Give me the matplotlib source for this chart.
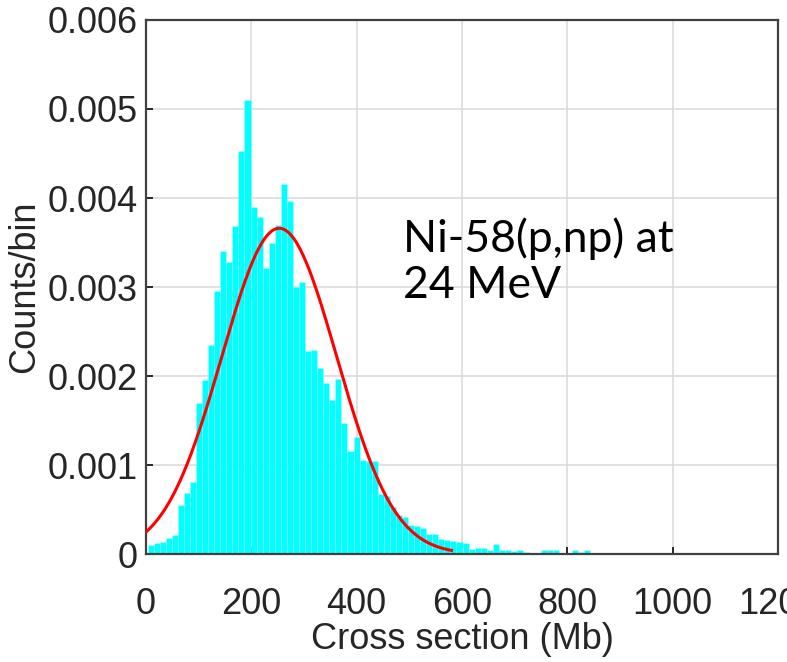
import numpy as np
import matplotlib
matplotlib.use("Agg")
import matplotlib.pyplot as plt

# histogram: 11.5 Mb bins starting at 3 Mb, normalised counts per bin
bin_start = 3.0
bin_width = 11.5
counts = [0.00010, 0.00012, 0.00014, 0.00018, 0.00021, 0.00055, 0.00069, 0.00081,
          0.00170, 0.00196, 0.00235, 0.00295, 0.00340, 0.00328, 0.00368, 0.00453,
          0.00510, 0.00390, 0.00379, 0.00321, 0.00350, 0.00370, 0.00416, 0.00397,
          0.00300, 0.00306, 0.00228, 0.00229, 0.00209, 0.00192, 0.00173, 0.00197,
          0.00147, 0.00116, 0.00132, 0.00106, 0.00104, 0.00105, 0.00068, 0.00065,
          0.00053, 0.00044, 0.00042, 0.00033, 0.00031, 0.00029, 0.00023, 0.00022,
          0.00017, 0.00016, 0.00015, 0.00013, 0.00012, 0.00006, 0.00007, 0.00007,
          0.00004, 0.00011, 0.00004, 0.00004, 0.00003, 0.00005, 0.00002, 0.00001,
          0.00001, 0.00004, 0.00004, 0.00004, 0.00001, 0.00000, 0.00004, 0.00002,
          0.00004]

# gaussian fit drawn in red
fit_mean = 253.0
fit_sigma = 109.0
fit_peak = 0.00366
fit_range = (0, 580)

xticks = [0, 200, 400, 600, 800, 1000, 1200]
yticks = [0, 0.001, 0.002, 0.003, 0.004, 0.005, 0.006]
ytick_labels = ["0", "0.001", "0.002", "0.003", "0.004", "0.005", "0.006"]

plt.rcParams["font.family"] = ["Liberation Sans", "DejaVu Sans"]

fig = plt.figure(figsize=(7.87, 6.62), dpi=100)
ax = fig.add_axes([0.1855, 0.1631, 0.8031, 0.8067])

edges = bin_start + bin_width * np.arange(len(counts))
ax.bar(edges, counts, width=bin_width, align="edge", color="#00ffff",
       edgecolor=(1, 1, 1, 0.3), linewidth=0.4, zorder=2)

xf = np.linspace(fit_range[0], fit_range[1], 300)
yf = fit_peak * np.exp(-(xf - fit_mean) ** 2 / (2 * fit_sigma ** 2))
ax.plot(xf, yf, color="#ff0000", lw=2.2, zorder=3)

ax.set_xlim(0, 1200)
ax.set_ylim(0, 0.006)
ax.set_xticks(xticks)
ax.set_yticks(yticks)
ax.set_yticklabels(ytick_labels)
ax.set_axisbelow(True)
ax.grid(True, color="#dcdcdc", lw=1.2)

ax.tick_params(axis="both", direction="in", length=5, width=1.4,
               labelsize=26, colors="#262626")
ax.tick_params(axis="y", pad=6)
ax.tick_params(axis="x", pad=24)
for s in ax.spines.values():
    s.set_color("#404040")
    s.set_linewidth(1.6)

ax.set_xlabel("Cross section (Mb)", fontsize=26, color="#262626", labelpad=0)
ax.set_ylabel("Counts/bin", fontsize=26, color="#262626", labelpad=4)

ax.text(488, 0.00288, "Ni-58(p,np) at\n24 MeV", fontsize=32, family=["Lato", "DejaVu Sans"],
        va="baseline", ha="left", linespacing=1.15, color="black", zorder=4)

fig.savefig("out.png", dpi=100)
